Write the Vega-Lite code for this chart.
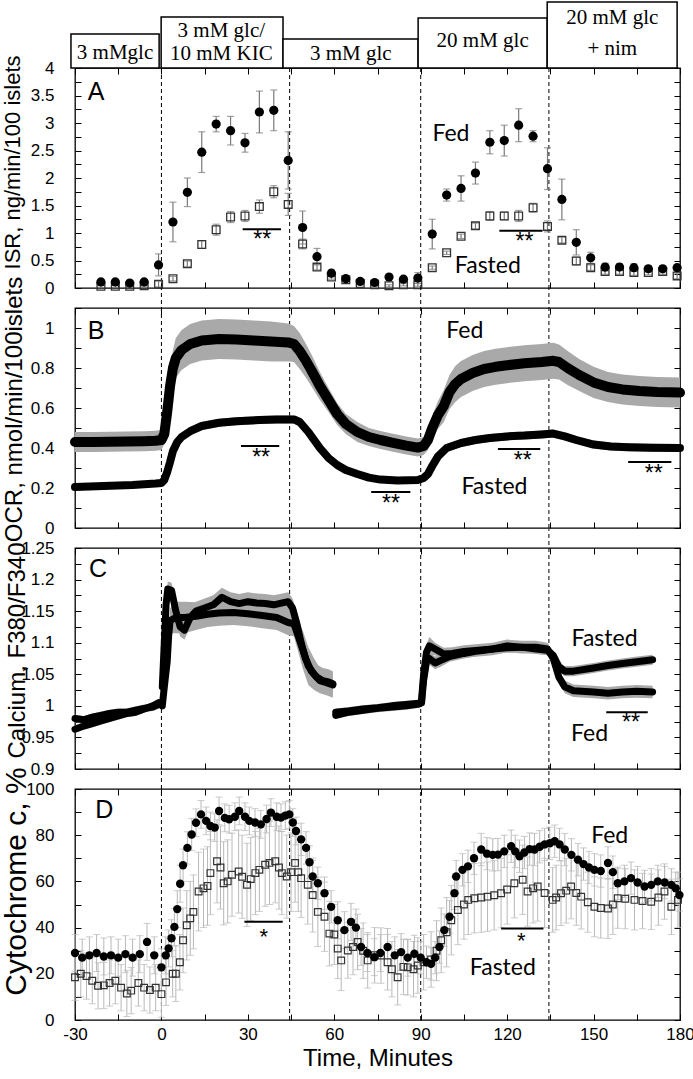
{
"$schema": "https://vega.github.io/schema/vega-lite/v6.json",
"padding": {"left": 0, "top": 0, "right": 2, "bottom": 0},
"config": {
 "font": "Liberation Sans",
 "view": {"stroke": "black", "strokeWidth": 1.3},
 "axis": {"domain": false, "grid": false, "tickColor": "black", "tickSize": -6, "tickWidth": 1, "labelColor": "black", "labelFont": "Liberation Sans", "labelFontSize": 17, "titleFont": "Liberation Sans", "titleFontWeight": "normal", "titleColor": "black", "labelFlush": false, "labelOverlap": false},
 "axisX": {"labelPadding": 12, "titleFontSize": 24, "titlePadding": 4},
 "axisY": {"labelPadding": 27}
},
"datasets": {
 "steps": [{"t": 0}, {"t": 44.5}, {"t": 90}, {"t": 134.5}],
 "hdr": [
  {"x1": -31.4, "x2": -0.8, "y1": 4, "y2": 4.618},
  {"x1": -0.1, "x2": 42.2, "y1": 4, "y2": 4.927},
  {"x1": 42.2, "x2": 89.1, "y1": 4, "y2": 4.527},
  {"x1": 89.1, "x2": 133.9, "y1": 4, "y2": 4.909},
  {"x1": 133.9, "x2": 179, "y1": 4, "y2": 5.2}
 ],
 "hdrtxt": [
  {"t": -16.1, "y": 4.273, "text": "3 mMglc"},
  {"t": 20.8, "y": 4.673, "text": "3 mM glc/"},
  {"t": 20.8, "y": 4.255, "text": "10 mM KIC"},
  {"t": 65.7, "y": 4.255, "text": "3 mM glc"},
  {"t": 111.5, "y": 4.491, "text": "20 mM glc"},
  {"t": 156.5, "y": 4.909, "text": "20 mM glc"},
  {"t": 156.5, "y": 4.345, "text": "+ nim"}
 ],
 "isr": [
  {"t": -21, "f": 0.11, "fe": 0.04, "q": 0.03, "qe": 0.02},
  {"t": -16, "f": 0.11, "fe": 0.04, "q": 0.03, "qe": 0.02},
  {"t": -11, "f": 0.09, "fe": 0.03, "q": 0.03, "qe": 0.02},
  {"t": -6, "f": 0.11, "fe": 0.04, "q": 0.04, "qe": 0.02},
  {"t": -1, "f": 0.42, "fe": 0.2, "q": 0.07, "qe": 0.05},
  {"t": 4, "f": 1.2, "fe": 0.36, "q": 0.17, "qe": 0.04},
  {"t": 9, "f": 1.74, "fe": 0.26, "q": 0.44, "qe": 0.05},
  {"t": 14, "f": 2.47, "fe": 0.37, "q": 0.79, "qe": 0.07},
  {"t": 19, "f": 2.98, "fe": 0.14, "q": 1.06, "qe": 0.1},
  {"t": 24, "f": 2.86, "fe": 0.26, "q": 1.29, "qe": 0.1},
  {"t": 29, "f": 2.64, "fe": 0.17, "q": 1.31, "qe": 0.1},
  {"t": 34, "f": 3.2, "fe": 0.38, "q": 1.48, "qe": 0.12},
  {"t": 39, "f": 3.23, "fe": 0.37, "q": 1.75, "qe": 0.11},
  {"t": 44, "f": 2.32, "fe": 0.52, "q": 1.52, "qe": 0.2},
  {"t": 49, "f": 1.1, "fe": 0.3, "q": 0.8, "qe": 0.09},
  {"t": 54, "f": 0.57, "fe": 0.15, "q": 0.38, "qe": 0.05},
  {"t": 59, "f": 0.27, "fe": 0.06, "q": 0.2, "qe": 0.04},
  {"t": 64, "f": 0.17, "fe": 0.03, "q": 0.15, "qe": 0.03},
  {"t": 69, "f": 0.12, "fe": 0.03, "q": 0.08, "qe": 0.02},
  {"t": 74, "f": 0.1, "fe": 0.03, "q": 0.06, "qe": 0.02},
  {"t": 79, "f": 0.2, "fe": 0.03, "q": 0.04, "qe": 0.02},
  {"t": 84, "f": 0.16, "fe": 0.04, "q": 0.06, "qe": 0.02},
  {"t": 89, "f": 0.18, "fe": 0.1, "q": 0.06, "qe": 0.03},
  {"t": 94, "f": 0.98, "fe": 0.27, "q": 0.37, "qe": 0.03},
  {"t": 99, "f": 1.69, "fe": 0.11, "q": 0.64, "qe": 0.03},
  {"t": 104, "f": 1.81, "fe": 0.23, "q": 0.94, "qe": 0.04},
  {"t": 109, "f": 2.09, "fe": 0.2, "q": 1.13, "qe": 0.05},
  {"t": 114, "f": 2.65, "fe": 0.21, "q": 1.31, "qe": 0.08},
  {"t": 119, "f": 2.68, "fe": 0.28, "q": 1.31, "qe": 0.07},
  {"t": 124, "f": 2.96, "fe": 0.3, "q": 1.31, "qe": 0.1},
  {"t": 129, "f": 2.76, "fe": 0.1, "q": 1.46, "qe": 0.08},
  {"t": 134, "f": 2.17, "fe": 0.38, "q": 1.12, "qe": 0.1},
  {"t": 139, "f": 1.61, "fe": 0.37, "q": 0.87, "qe": 0.05},
  {"t": 144, "f": 0.83, "fe": 0.23, "q": 0.49, "qe": 0.07},
  {"t": 149, "f": 0.55, "fe": 0.1, "q": 0.37, "qe": 0.05},
  {"t": 154, "f": 0.38, "fe": 0.07, "q": 0.3, "qe": 0.05},
  {"t": 159, "f": 0.38, "fe": 0.06, "q": 0.3, "qe": 0.05},
  {"t": 164, "f": 0.37, "fe": 0.07, "q": 0.28, "qe": 0.05},
  {"t": 169, "f": 0.35, "fe": 0.05, "q": 0.28, "qe": 0.04},
  {"t": 174, "f": 0.35, "fe": 0.05, "q": 0.3, "qe": 0.05},
  {"t": 179, "f": 0.37, "fe": 0.05, "q": 0.22, "qe": 0.05}
 ],
 "ocr_fed": [
  {"t": -30, "v": 0.43, "e": 0.05}, {"t": -24, "v": 0.43, "e": 0.05}, {"t": -18, "v": 0.431, "e": 0.05}, {"t": -12, "v": 0.432, "e": 0.05}, {"t": -6, "v": 0.434, "e": 0.05}, {"t": -2, "v": 0.436, "e": 0.05}, {"t": 0, "v": 0.44, "e": 0.05}, {"t": 1, "v": 0.47, "e": 0.05}, {"t": 2, "v": 0.58, "e": 0.06}, {"t": 3, "v": 0.71, "e": 0.08}, {"t": 4, "v": 0.8, "e": 0.09}, {"t": 5, "v": 0.85, "e": 0.1}, {"t": 7, "v": 0.89, "e": 0.1}, {"t": 10, "v": 0.92, "e": 0.1}, {"t": 14, "v": 0.938, "e": 0.1}, {"t": 20, "v": 0.945, "e": 0.1}, {"t": 26, "v": 0.942, "e": 0.1}, {"t": 32, "v": 0.937, "e": 0.1}, {"t": 38, "v": 0.933, "e": 0.1}, {"t": 44, "v": 0.928, "e": 0.095}, {"t": 46, "v": 0.92, "e": 0.09}, {"t": 48, "v": 0.885, "e": 0.09}, {"t": 50, "v": 0.84, "e": 0.085}, {"t": 52, "v": 0.79, "e": 0.08}, {"t": 55, "v": 0.71, "e": 0.07}, {"t": 58, "v": 0.64, "e": 0.06}, {"t": 61, "v": 0.57, "e": 0.055}, {"t": 64, "v": 0.52, "e": 0.05}, {"t": 68, "v": 0.48, "e": 0.05}, {"t": 72, "v": 0.455, "e": 0.045}, {"t": 76, "v": 0.44, "e": 0.045}, {"t": 80, "v": 0.427, "e": 0.045}, {"t": 85, "v": 0.412, "e": 0.045}, {"t": 89, "v": 0.402, "e": 0.045}, {"t": 91, "v": 0.41, "e": 0.045}, {"t": 92.5, "v": 0.44, "e": 0.05}, {"t": 94, "v": 0.5, "e": 0.06}, {"t": 96, "v": 0.565, "e": 0.07}, {"t": 98, "v": 0.61, "e": 0.08}, {"t": 100, "v": 0.68, "e": 0.085}, {"t": 102, "v": 0.72, "e": 0.09}, {"t": 104, "v": 0.745, "e": 0.09}, {"t": 108, "v": 0.775, "e": 0.09}, {"t": 112, "v": 0.795, "e": 0.09}, {"t": 116, "v": 0.806, "e": 0.09}, {"t": 120, "v": 0.814, "e": 0.09}, {"t": 126, "v": 0.824, "e": 0.09}, {"t": 132, "v": 0.83, "e": 0.09}, {"t": 136, "v": 0.836, "e": 0.09}, {"t": 138, "v": 0.83, "e": 0.088}, {"t": 141, "v": 0.8, "e": 0.085}, {"t": 145, "v": 0.765, "e": 0.08}, {"t": 150, "v": 0.728, "e": 0.078}, {"t": 155, "v": 0.705, "e": 0.075}, {"t": 160, "v": 0.693, "e": 0.075}, {"t": 166, "v": 0.685, "e": 0.075}, {"t": 172, "v": 0.68, "e": 0.075}, {"t": 180, "v": 0.677, "e": 0.075}
 ],
 "ocr_fas": [
  {"t": -30, "v": 0.205, "e": 0.015}, {"t": -20, "v": 0.21, "e": 0.015}, {"t": -10, "v": 0.215, "e": 0.015}, {"t": -2, "v": 0.222, "e": 0.015}, {"t": 0, "v": 0.225, "e": 0.015}, {"t": 1, "v": 0.24, "e": 0.015}, {"t": 2, "v": 0.28, "e": 0.02}, {"t": 3, "v": 0.33, "e": 0.02}, {"t": 4, "v": 0.385, "e": 0.02}, {"t": 5.5, "v": 0.43, "e": 0.02}, {"t": 7, "v": 0.455, "e": 0.02}, {"t": 10, "v": 0.484, "e": 0.02}, {"t": 14, "v": 0.51, "e": 0.02}, {"t": 20, "v": 0.526, "e": 0.02}, {"t": 26, "v": 0.534, "e": 0.02}, {"t": 34, "v": 0.54, "e": 0.02}, {"t": 40, "v": 0.543, "e": 0.02}, {"t": 46, "v": 0.543, "e": 0.02}, {"t": 48, "v": 0.53, "e": 0.02}, {"t": 51, "v": 0.48, "e": 0.02}, {"t": 55, "v": 0.4, "e": 0.02}, {"t": 58, "v": 0.35, "e": 0.02}, {"t": 61, "v": 0.315, "e": 0.02}, {"t": 64, "v": 0.29, "e": 0.018}, {"t": 68, "v": 0.27, "e": 0.015}, {"t": 72, "v": 0.252, "e": 0.015}, {"t": 76, "v": 0.242, "e": 0.015}, {"t": 82, "v": 0.237, "e": 0.015}, {"t": 89, "v": 0.24, "e": 0.015}, {"t": 91, "v": 0.25, "e": 0.015}, {"t": 92.5, "v": 0.27, "e": 0.015}, {"t": 94, "v": 0.31, "e": 0.018}, {"t": 96, "v": 0.358, "e": 0.02}, {"t": 99, "v": 0.4, "e": 0.02}, {"t": 104, "v": 0.425, "e": 0.02}, {"t": 109, "v": 0.44, "e": 0.02}, {"t": 114, "v": 0.45, "e": 0.02}, {"t": 120, "v": 0.458, "e": 0.02}, {"t": 126, "v": 0.462, "e": 0.02}, {"t": 132, "v": 0.468, "e": 0.02}, {"t": 136, "v": 0.472, "e": 0.02}, {"t": 140, "v": 0.458, "e": 0.02}, {"t": 144, "v": 0.44, "e": 0.02}, {"t": 150, "v": 0.417, "e": 0.02}, {"t": 156, "v": 0.408, "e": 0.02}, {"t": 162, "v": 0.404, "e": 0.02}, {"t": 170, "v": 0.401, "e": 0.02}, {"t": 180, "v": 0.4, "e": 0.02}
 ],
 "ca_fed": [
  {"s": 1, "t": -30, "v": 0.98, "e": 0.006}, {"s": 1, "t": -27, "v": 0.978, "e": 0.006}, {"s": 1, "t": -24, "v": 0.982, "e": 0.006}, {"s": 1, "t": -21, "v": 0.985, "e": 0.006}, {"s": 1, "t": -18, "v": 0.988, "e": 0.006}, {"s": 1, "t": -15, "v": 0.99, "e": 0.006}, {"s": 1, "t": -12, "v": 0.99, "e": 0.006}, {"s": 1, "t": -9, "v": 0.993, "e": 0.006}, {"s": 1, "t": -6, "v": 0.996, "e": 0.006}, {"s": 1, "t": -3, "v": 0.998, "e": 0.006}, {"s": 1, "t": -1, "v": 1.002, "e": 0.006},
  {"s": 2, "t": 0.3, "v": 1.03, "e": 0.01}, {"s": 2, "t": 1, "v": 1.1, "e": 0.012}, {"s": 2, "t": 1.6, "v": 1.16, "e": 0.012}, {"s": 2, "t": 2.2, "v": 1.185, "e": 0.012}, {"s": 2, "t": 3.5, "v": 1.183, "e": 0.012}, {"s": 2, "t": 5, "v": 1.15, "e": 0.015}, {"s": 2, "t": 6.5, "v": 1.125, "e": 0.015}, {"s": 2, "t": 8, "v": 1.12, "e": 0.015}, {"s": 2, "t": 10, "v": 1.14, "e": 0.015}, {"s": 2, "t": 12, "v": 1.15, "e": 0.015}, {"s": 2, "t": 15, "v": 1.155, "e": 0.015}, {"s": 2, "t": 18, "v": 1.16, "e": 0.015}, {"s": 2, "t": 21, "v": 1.172, "e": 0.015}, {"s": 2, "t": 24, "v": 1.165, "e": 0.015}, {"s": 2, "t": 27, "v": 1.162, "e": 0.015}, {"s": 2, "t": 30, "v": 1.165, "e": 0.015}, {"s": 2, "t": 33, "v": 1.163, "e": 0.015}, {"s": 2, "t": 36, "v": 1.162, "e": 0.015}, {"s": 2, "t": 39, "v": 1.16, "e": 0.015}, {"s": 2, "t": 42, "v": 1.163, "e": 0.015}, {"s": 2, "t": 44, "v": 1.165, "e": 0.015}, {"s": 2, "t": 45.5, "v": 1.155, "e": 0.015}, {"s": 2, "t": 47, "v": 1.13, "e": 0.02}, {"s": 2, "t": 48.5, "v": 1.1, "e": 0.025}, {"s": 2, "t": 50, "v": 1.075, "e": 0.025}, {"s": 2, "t": 52, "v": 1.055, "e": 0.025}, {"s": 2, "t": 54, "v": 1.045, "e": 0.02}, {"s": 2, "t": 56, "v": 1.04, "e": 0.02}, {"s": 2, "t": 58, "v": 1.038, "e": 0.02}, {"s": 2, "t": 59.5, "v": 1.035, "e": 0.02},
  {"s": 3, "t": 60.5, "v": 0.99, "e": 0.006}, {"s": 3, "t": 65, "v": 0.992, "e": 0.006}, {"s": 3, "t": 70, "v": 0.995, "e": 0.006}, {"s": 3, "t": 75, "v": 0.997, "e": 0.006}, {"s": 3, "t": 80, "v": 1.0, "e": 0.006}, {"s": 3, "t": 85, "v": 1.002, "e": 0.006}, {"s": 3, "t": 89.5, "v": 1.004, "e": 0.006},
  {"s": 4, "t": 90.3, "v": 1.01, "e": 0.008}, {"s": 4, "t": 91, "v": 1.05, "e": 0.01}, {"s": 4, "t": 92, "v": 1.085, "e": 0.012}, {"s": 4, "t": 93, "v": 1.095, "e": 0.014}, {"s": 4, "t": 95, "v": 1.09, "e": 0.01}, {"s": 4, "t": 98, "v": 1.082, "e": 0.01}, {"s": 4, "t": 101, "v": 1.083, "e": 0.01}, {"s": 4, "t": 105, "v": 1.086, "e": 0.01}, {"s": 4, "t": 110, "v": 1.088, "e": 0.01}, {"s": 4, "t": 115, "v": 1.09, "e": 0.01}, {"s": 4, "t": 120, "v": 1.095, "e": 0.01}, {"s": 4, "t": 125, "v": 1.093, "e": 0.01}, {"s": 4, "t": 130, "v": 1.093, "e": 0.01}, {"s": 4, "t": 134, "v": 1.09, "e": 0.01}, {"s": 4, "t": 136, "v": 1.075, "e": 0.01}, {"s": 4, "t": 138, "v": 1.045, "e": 0.01}, {"s": 4, "t": 140, "v": 1.03, "e": 0.01}, {"s": 4, "t": 143, "v": 1.024, "e": 0.01}, {"s": 4, "t": 150, "v": 1.022, "e": 0.01}, {"s": 4, "t": 155, "v": 1.02, "e": 0.01}, {"s": 4, "t": 160, "v": 1.022, "e": 0.01}, {"s": 4, "t": 165, "v": 1.023, "e": 0.01}, {"s": 4, "t": 170.5, "v": 1.022, "e": 0.01}
 ],
 "ca_fas": [
  {"s": 1, "t": -30, "v": 0.963, "e": 0.006}, {"s": 1, "t": -27, "v": 0.968, "e": 0.006}, {"s": 1, "t": -24, "v": 0.972, "e": 0.006}, {"s": 1, "t": -21, "v": 0.976, "e": 0.006}, {"s": 1, "t": -18, "v": 0.98, "e": 0.006}, {"s": 1, "t": -15, "v": 0.984, "e": 0.006}, {"s": 1, "t": -12, "v": 0.988, "e": 0.006}, {"s": 1, "t": -9, "v": 0.99, "e": 0.006}, {"s": 1, "t": -6, "v": 0.995, "e": 0.006}, {"s": 1, "t": -3, "v": 1.0, "e": 0.006}, {"s": 1, "t": -1, "v": 1.005, "e": 0.006},
  {"s": 2, "t": 0.3, "v": 1.0, "e": 0.01}, {"s": 2, "t": 1, "v": 1.03, "e": 0.01}, {"s": 2, "t": 2, "v": 1.07, "e": 0.01}, {"s": 2, "t": 2.5, "v": 1.11, "e": 0.015}, {"s": 2, "t": 3, "v": 1.135, "e": 0.02}, {"s": 2, "t": 5, "v": 1.14, "e": 0.025}, {"s": 2, "t": 8, "v": 1.14, "e": 0.025}, {"s": 2, "t": 12, "v": 1.142, "e": 0.022}, {"s": 2, "t": 16, "v": 1.145, "e": 0.02}, {"s": 2, "t": 20, "v": 1.147, "e": 0.02}, {"s": 2, "t": 25, "v": 1.148, "e": 0.02}, {"s": 2, "t": 30, "v": 1.146, "e": 0.02}, {"s": 2, "t": 35, "v": 1.143, "e": 0.02}, {"s": 2, "t": 40, "v": 1.14, "e": 0.02}, {"s": 2, "t": 44, "v": 1.132, "e": 0.02}, {"s": 2, "t": 46, "v": 1.13, "e": 0.02}, {"s": 2, "t": 47.5, "v": 1.11, "e": 0.025}, {"s": 2, "t": 49, "v": 1.09, "e": 0.03}, {"s": 2, "t": 51, "v": 1.063, "e": 0.03}, {"s": 2, "t": 53, "v": 1.05, "e": 0.025}, {"s": 2, "t": 55, "v": 1.04, "e": 0.02}, {"s": 2, "t": 57, "v": 1.037, "e": 0.02}, {"s": 2, "t": 59.5, "v": 1.033, "e": 0.02},
  {"s": 3, "t": 60.5, "v": 0.985, "e": 0.006}, {"s": 3, "t": 65, "v": 0.99, "e": 0.006}, {"s": 3, "t": 70, "v": 0.993, "e": 0.006}, {"s": 3, "t": 75, "v": 0.996, "e": 0.006}, {"s": 3, "t": 80, "v": 0.998, "e": 0.006}, {"s": 3, "t": 85, "v": 1.0, "e": 0.006}, {"s": 3, "t": 89.5, "v": 1.003, "e": 0.006},
  {"s": 4, "t": 90.3, "v": 1.005, "e": 0.008}, {"s": 4, "t": 91, "v": 1.04, "e": 0.01}, {"s": 4, "t": 92, "v": 1.07, "e": 0.01}, {"s": 4, "t": 93, "v": 1.075, "e": 0.01}, {"s": 4, "t": 95, "v": 1.068, "e": 0.01}, {"s": 4, "t": 97, "v": 1.072, "e": 0.01}, {"s": 4, "t": 100, "v": 1.078, "e": 0.008}, {"s": 4, "t": 105, "v": 1.083, "e": 0.008}, {"s": 4, "t": 110, "v": 1.087, "e": 0.008}, {"s": 4, "t": 115, "v": 1.09, "e": 0.008}, {"s": 4, "t": 120, "v": 1.092, "e": 0.008}, {"s": 4, "t": 125, "v": 1.093, "e": 0.008}, {"s": 4, "t": 130, "v": 1.09, "e": 0.008}, {"s": 4, "t": 134, "v": 1.088, "e": 0.008}, {"s": 4, "t": 136, "v": 1.08, "e": 0.008}, {"s": 4, "t": 138, "v": 1.062, "e": 0.008}, {"s": 4, "t": 140, "v": 1.055, "e": 0.008}, {"s": 4, "t": 143, "v": 1.055, "e": 0.008}, {"s": 4, "t": 150, "v": 1.06, "e": 0.008}, {"s": 4, "t": 155, "v": 1.064, "e": 0.008}, {"s": 4, "t": 160, "v": 1.067, "e": 0.008}, {"s": 4, "t": 165, "v": 1.07, "e": 0.008}, {"s": 4, "t": 170.5, "v": 1.073, "e": 0.008}
 ],
 "cyt_fed": [
  {"t": -30, "v": 29, "e": 8}, {"t": -27.5, "v": 27, "e": 8}, {"t": -25, "v": 28, "e": 8}, {"t": -22.5, "v": 29, "e": 8}, {"t": -20, "v": 27.5, "e": 8}, {"t": -17.5, "v": 28, "e": 8}, {"t": -15, "v": 27, "e": 8}, {"t": -12.5, "v": 28.5, "e": 8}, {"t": -10, "v": 27, "e": 8}, {"t": -7.5, "v": 28.5, "e": 8}, {"t": -5, "v": 33.8, "e": 8}, {"t": -2.5, "v": 28, "e": 8}, {"t": 0, "v": 22.8, "e": 8}, {"t": 1.5, "v": 28, "e": 8}, {"t": 2.5, "v": 31, "e": 8}, {"t": 3.5, "v": 35.4, "e": 8}, {"t": 4.5, "v": 40.3, "e": 8}, {"t": 5.5, "v": 48, "e": 8}, {"t": 6.5, "v": 59, "e": 8}, {"t": 7.5, "v": 67, "e": 7}, {"t": 9, "v": 74.5, "e": 7}, {"t": 10.5, "v": 80.3, "e": 7}, {"t": 12, "v": 85.4, "e": 6}, {"t": 13.75, "v": 89, "e": 6}, {"t": 15.5, "v": 86.2, "e": 6}, {"t": 17, "v": 84, "e": 6}, {"t": 18.5, "v": 83.3, "e": 6}, {"t": 20, "v": 90.5, "e": 6}, {"t": 22, "v": 87.5, "e": 6}, {"t": 23.5, "v": 86.9, "e": 6}, {"t": 25.5, "v": 88, "e": 6}, {"t": 27, "v": 90.5, "e": 6}, {"t": 29, "v": 88, "e": 6}, {"t": 30.5, "v": 86.2, "e": 6}, {"t": 32.5, "v": 85.5, "e": 6}, {"t": 34.5, "v": 84.7, "e": 6}, {"t": 36.5, "v": 87, "e": 6}, {"t": 38, "v": 89.8, "e": 6}, {"t": 40, "v": 88, "e": 6}, {"t": 41.5, "v": 87.6, "e": 6}, {"t": 43, "v": 88.5, "e": 6}, {"t": 44.4, "v": 89, "e": 6}, {"t": 45.6, "v": 85.5, "e": 6}, {"t": 46.7, "v": 81.8, "e": 6}, {"t": 48.5, "v": 78.2, "e": 7}, {"t": 50.2, "v": 74.5, "e": 7}, {"t": 51.4, "v": 68.3, "e": 7}, {"t": 52.5, "v": 62.1, "e": 7}, {"t": 54.3, "v": 59.2, "e": 7}, {"t": 56.6, "v": 54.9, "e": 7}, {"t": 58.9, "v": 49, "e": 7}, {"t": 61.2, "v": 43.2, "e": 8}, {"t": 63.5, "v": 38.9, "e": 8}, {"t": 65.8, "v": 42.5, "e": 8}, {"t": 67.5, "v": 40, "e": 8}, {"t": 69.3, "v": 31.6, "e": 8}, {"t": 71.5, "v": 29, "e": 8}, {"t": 73.9, "v": 27.2, "e": 8}, {"t": 76, "v": 29, "e": 8}, {"t": 78.5, "v": 31.6, "e": 8}, {"t": 81, "v": 28, "e": 8}, {"t": 83.2, "v": 29.4, "e": 8}, {"t": 85.5, "v": 27, "e": 8}, {"t": 87.8, "v": 28.7, "e": 8}, {"t": 90, "v": 27, "e": 7}, {"t": 92, "v": 25, "e": 7}, {"t": 93.6, "v": 24.3, "e": 7}, {"t": 95, "v": 27, "e": 7}, {"t": 96.5, "v": 31.6, "e": 7}, {"t": 98.2, "v": 38.9, "e": 7}, {"t": 100, "v": 44.7, "e": 7}, {"t": 101.7, "v": 54.9, "e": 7}, {"t": 102.3, "v": 62.1, "e": 7}, {"t": 104.5, "v": 65, "e": 7}, {"t": 106.4, "v": 66.5, "e": 7}, {"t": 108.5, "v": 70, "e": 7}, {"t": 111, "v": 73.8, "e": 7}, {"t": 113, "v": 72, "e": 7}, {"t": 115, "v": 71.5, "e": 7}, {"t": 116.8, "v": 71.6, "e": 7}, {"t": 119, "v": 73, "e": 7}, {"t": 121.4, "v": 75.2, "e": 7}, {"t": 122.8, "v": 73, "e": 7}, {"t": 124.3, "v": 70.9, "e": 7}, {"t": 126, "v": 72.5, "e": 7}, {"t": 127.8, "v": 74, "e": 7}, {"t": 129.5, "v": 73.8, "e": 7}, {"t": 131.3, "v": 75, "e": 7}, {"t": 133, "v": 76, "e": 7}, {"t": 134.8, "v": 76.5, "e": 7}, {"t": 136.5, "v": 77.4, "e": 7}, {"t": 138.2, "v": 76, "e": 7}, {"t": 140, "v": 73.8, "e": 7}, {"t": 142.3, "v": 71.5, "e": 7}, {"t": 144.6, "v": 69.4, "e": 7}, {"t": 146.5, "v": 67.5, "e": 7}, {"t": 148.4, "v": 66, "e": 7}, {"t": 150.3, "v": 65, "e": 7}, {"t": 152.5, "v": 64.5, "e": 7}, {"t": 155, "v": 68, "e": 7}, {"t": 156.7, "v": 64, "e": 7}, {"t": 158.4, "v": 59.2, "e": 7}, {"t": 160.7, "v": 60, "e": 7}, {"t": 163, "v": 61.4, "e": 7}, {"t": 165.3, "v": 59.5, "e": 7}, {"t": 167.7, "v": 57.8, "e": 7}, {"t": 170, "v": 58.5, "e": 7}, {"t": 172.3, "v": 60, "e": 7}, {"t": 174.7, "v": 59.5, "e": 7}, {"t": 177, "v": 58.5, "e": 7}, {"t": 178.5, "v": 57, "e": 7}, {"t": 179.8, "v": 54.1, "e": 7}
 ],
 "cyt_fas": [
  {"t": -30, "v": 18.5, "e": 10}, {"t": -28, "v": 20, "e": 10}, {"t": -26, "v": 19, "e": 10}, {"t": -24, "v": 17, "e": 10}, {"t": -22, "v": 14.8, "e": 10}, {"t": -20, "v": 15, "e": 10}, {"t": -18, "v": 16, "e": 10}, {"t": -16, "v": 17, "e": 10}, {"t": -14, "v": 14, "e": 10}, {"t": -12, "v": 11.5, "e": 10}, {"t": -10.5, "v": 12.7, "e": 10}, {"t": -8, "v": 16, "e": 10}, {"t": -6, "v": 14, "e": 10}, {"t": -4, "v": 13, "e": 10}, {"t": -2, "v": 14, "e": 10}, {"t": 0, "v": 11.2, "e": 10}, {"t": 1.6, "v": 16.3, "e": 10}, {"t": 3.9, "v": 20, "e": 10}, {"t": 5, "v": 20, "e": 12}, {"t": 6.4, "v": 25, "e": 12}, {"t": 7.5, "v": 34.5, "e": 14}, {"t": 8.8, "v": 41, "e": 15}, {"t": 10, "v": 44, "e": 16}, {"t": 11.1, "v": 46.8, "e": 16}, {"t": 12.9, "v": 55.6, "e": 17}, {"t": 14.6, "v": 57, "e": 17}, {"t": 16, "v": 58, "e": 17}, {"t": 17, "v": 63.6, "e": 18}, {"t": 19.3, "v": 68.7, "e": 18}, {"t": 20.5, "v": 66, "e": 18}, {"t": 21.6, "v": 59.2, "e": 18}, {"t": 23, "v": 60, "e": 18}, {"t": 24.5, "v": 62.9, "e": 18}, {"t": 26.8, "v": 64.3, "e": 18}, {"t": 28, "v": 62, "e": 18}, {"t": 29.7, "v": 58.5, "e": 18}, {"t": 31, "v": 61, "e": 18}, {"t": 32.6, "v": 63.6, "e": 18}, {"t": 34, "v": 65, "e": 18}, {"t": 36, "v": 67.2, "e": 18}, {"t": 37.5, "v": 68, "e": 18}, {"t": 39.5, "v": 68.7, "e": 18}, {"t": 40.8, "v": 66, "e": 18}, {"t": 41.8, "v": 63.6, "e": 18}, {"t": 43.5, "v": 62.1, "e": 18}, {"t": 45, "v": 64, "e": 17}, {"t": 46.4, "v": 68, "e": 17}, {"t": 47.5, "v": 64, "e": 17}, {"t": 48.5, "v": 61.4, "e": 17}, {"t": 50.8, "v": 58.5, "e": 17}, {"t": 52.5, "v": 54.1, "e": 16}, {"t": 54.3, "v": 46.8, "e": 15}, {"t": 56.6, "v": 44.7, "e": 15}, {"t": 58.3, "v": 37.4, "e": 14}, {"t": 60, "v": 37, "e": 13}, {"t": 61.2, "v": 30.9, "e": 13}, {"t": 62.4, "v": 25.8, "e": 13}, {"t": 64.7, "v": 30.1, "e": 12}, {"t": 66.5, "v": 31.6, "e": 12}, {"t": 68.1, "v": 33.8, "e": 12}, {"t": 70, "v": 30, "e": 12}, {"t": 71.6, "v": 25.8, "e": 12}, {"t": 74, "v": 28, "e": 12}, {"t": 76.2, "v": 27.9, "e": 12}, {"t": 78.5, "v": 25, "e": 12}, {"t": 80, "v": 22, "e": 12}, {"t": 82, "v": 18.5, "e": 12}, {"t": 84, "v": 23, "e": 12}, {"t": 85.5, "v": 22.8, "e": 12}, {"t": 87.5, "v": 22, "e": 12}, {"t": 89, "v": 23.6, "e": 12}, {"t": 91, "v": 25, "e": 12}, {"t": 93.6, "v": 26.2, "e": 12}, {"t": 95.5, "v": 30, "e": 13}, {"t": 97.1, "v": 34.5, "e": 14}, {"t": 99, "v": 38, "e": 15}, {"t": 100.6, "v": 43.2, "e": 15}, {"t": 102.9, "v": 47.6, "e": 15}, {"t": 105, "v": 50, "e": 15}, {"t": 106.5, "v": 52, "e": 15}, {"t": 108.6, "v": 52.7, "e": 15}, {"t": 111, "v": 53, "e": 15}, {"t": 113.2, "v": 53.4, "e": 15}, {"t": 115.5, "v": 54, "e": 15}, {"t": 117.9, "v": 54.9, "e": 15}, {"t": 120, "v": 56.5, "e": 15}, {"t": 122.5, "v": 59.2, "e": 15}, {"t": 125.4, "v": 60.7, "e": 15}, {"t": 127.1, "v": 55.6, "e": 15}, {"t": 129, "v": 57, "e": 15}, {"t": 130.6, "v": 57.8, "e": 15}, {"t": 133, "v": 55, "e": 15}, {"t": 135.8, "v": 52, "e": 14}, {"t": 137, "v": 53, "e": 14}, {"t": 138.7, "v": 54.9, "e": 14}, {"t": 140.5, "v": 56, "e": 14}, {"t": 142.2, "v": 57.8, "e": 14}, {"t": 144, "v": 55, "e": 14}, {"t": 145.7, "v": 53.4, "e": 14}, {"t": 148, "v": 51, "e": 13}, {"t": 150.3, "v": 49, "e": 13}, {"t": 152.5, "v": 48.5, "e": 13}, {"t": 155, "v": 48.3, "e": 13}, {"t": 156.7, "v": 50, "e": 13}, {"t": 158.4, "v": 52.7, "e": 13}, {"t": 161, "v": 52.5, "e": 13}, {"t": 164.2, "v": 52, "e": 13}, {"t": 167, "v": 51.5, "e": 12}, {"t": 170, "v": 51.2, "e": 12}, {"t": 172.5, "v": 53, "e": 12}, {"t": 174.6, "v": 55.6, "e": 12}, {"t": 177, "v": 49, "e": 12}, {"t": 179.3, "v": 52, "e": 12}
 ]
},
"spacing": 20,
"bounds": "flush",
"resolve": {"scale": {"x": "independent", "y": "independent"}},
"vconcat": [
 {
  "width": 605, "height": 220,
  "resolve": {"axis": {"x": "independent", "y": "independent"}},
  "layer": [
   {"data": {"name": "hdr"}, "mark": {"type": "rect", "fill": "white", "stroke": "black", "strokeWidth": 1.5},
    "encoding": {
     "x": {"field": "x1", "type": "quantitative", "scale": {"domain": [-30, 180], "nice": false, "zero": false}, "axis": null},
     "x2": {"field": "x2"},
     "y": {"field": "y1", "type": "quantitative", "scale": {"domain": [0, 4], "nice": false, "zero": false}, "axis": null},
     "y2": {"field": "y2"}}},
   {"data": {"name": "hdrtxt"}, "mark": {"type": "text", "font": "Liberation Serif", "fontSize": 21, "color": "black", "align": "center", "baseline": "middle"},
    "encoding": {
     "x": {"field": "t", "type": "quantitative", "axis": null},
     "y": {"field": "y", "type": "quantitative", "axis": null},
     "text": {"field": "text"}}},
   {"data": {"name": "steps"}, "mark": {"type": "rule", "strokeDash": [4, 3], "color": "black", "strokeWidth": 1},
    "encoding": {"x": {"field": "t", "type": "quantitative", "axis": null}}},
   {"data": {"name": "isr"}, "mark": {"type": "errorbar", "ticks": {"size": 7}, "color": "#7a7a7a", "thickness": 1.2},
    "encoding": {"x": {"field": "t", "type": "quantitative", "axis": null},
     "y": {"field": "f", "type": "quantitative", "axis": null},
     "yError": {"field": "fe"}}},
   {"data": {"name": "isr"}, "mark": {"type": "errorbar", "ticks": {"size": 7}, "color": "#7a7a7a", "thickness": 1.2},
    "encoding": {"x": {"field": "t", "type": "quantitative", "axis": null},
     "y": {"field": "q", "type": "quantitative", "axis": null},
     "yError": {"field": "qe"}}},
   {"data": {"name": "isr"}, "mark": {"type": "point", "shape": "square", "filled": false, "color": "#333333", "strokeWidth": 1.3, "size": 60, "opacity": 1},
    "encoding": {
     "x": {"field": "t", "type": "quantitative", "axis": {"orient": "bottom", "values": [-30, -15, 0, 15, 30, 45, 60, 75, 90, 105, 120, 135, 150, 165, 180], "labels": false, "title": null}},
     "y": {"field": "q", "type": "quantitative", "axis": {"orient": "left", "values": [0, 0.25, 0.5, 0.75, 1, 1.25, 1.5, 1.75, 2, 2.25, 2.5, 2.75, 3, 3.25, 3.5, 3.75, 4], "format": "~g", "labelExpr": "datum.value % 0.5 == 0 ? datum.label : ''", "title": "ISR, ng/min/100 islets", "titleFontSize": 22, "titleX": -56, "titleY": 94, "titleBaseline": "alphabetic"}}}},
   {"data": {"name": "isr"}, "mark": {"type": "point", "shape": "circle", "filled": true, "color": "black", "size": 85, "opacity": 1},
    "encoding": {
     "x": {"field": "t", "type": "quantitative", "axis": {"orient": "top", "values": [-30, -15, 0, 15, 30, 45, 60, 75, 90, 105, 120, 135, 150, 165, 180], "labels": false, "title": null}},
     "y": {"field": "f", "type": "quantitative", "axis": {"orient": "right", "values": [0, 0.25, 0.5, 0.75, 1, 1.25, 1.5, 1.75, 2, 2.25, 2.5, 2.75, 3, 3.25, 3.5, 3.75, 4], "labels": false, "title": null}}}},
   {"data": {"values": [{"a": 28.2, "b": 41.5, "y": 1.07}, {"a": 117.3, "b": 132.3, "y": 1.04}]}, "mark": {"type": "rule", "color": "black", "strokeWidth": 2},
    "encoding": {"x": {"field": "a", "type": "quantitative", "axis": null}, "x2": {"field": "b"}, "y": {"field": "y", "type": "quantitative", "axis": null}}},
   {"data": {"values": [{"t": 35, "y": 0.87, "text": "**"}, {"t": 126, "y": 0.84, "text": "**"}]}, "mark": {"type": "text", "font": "Liberation Sans", "fontSize": 23, "color": "black", "align": "center", "baseline": "middle"},
    "encoding": {"x": {"field": "t", "type": "quantitative", "axis": null}, "y": {"field": "y", "type": "quantitative", "axis": null}, "text": {"field": "text"}}},
   {"data": {"values": [{"t": -22.7, "y": 3.57, "text": "A"}]}, "mark": {"type": "text", "font": "Liberation Sans", "fontSize": 25, "color": "black", "align": "center", "baseline": "middle"},
    "encoding": {"x": {"field": "t", "type": "quantitative", "axis": null}, "y": {"field": "y", "type": "quantitative", "axis": null}, "text": {"field": "text"}}},
   {"data": {"values": [{"t": 100.5, "y": 2.8, "text": "Fed"}, {"t": 113.3, "y": 0.4, "text": "Fasted"}]}, "mark": {"type": "text", "font": "Lato", "fontSize": 23, "color": "black", "align": "center", "baseline": "middle"},
    "encoding": {"x": {"field": "t", "type": "quantitative", "axis": null}, "y": {"field": "y", "type": "quantitative", "axis": null}, "text": {"field": "text"}}}
  ]
 },
 {
  "width": 605, "height": 220,
  "resolve": {"axis": {"x": "independent", "y": "independent"}},
  "layer": [
   {"data": {"name": "steps"}, "mark": {"type": "rule", "strokeDash": [4, 3], "color": "black", "strokeWidth": 1},
    "encoding": {"x": {"field": "t", "type": "quantitative", "scale": {"domain": [-30, 180], "nice": false, "zero": false}, "axis": null},
     "y": {"datum": 0, "type": "quantitative", "scale": {"domain": [0, 1.1], "nice": false, "zero": false}, "axis": null}, "y2": {"datum": 1.2}}},
   {"data": {"name": "ocr_fed"}, "mark": {"type": "errorband", "band": {"color": "#a9a9a9", "opacity": 1}},
    "encoding": {"x": {"field": "t", "type": "quantitative", "axis": null}, "y": {"field": "v", "type": "quantitative", "axis": null}, "yError": {"field": "e"}}},
   {"data": {"name": "ocr_fas"}, "mark": {"type": "errorband", "band": {"color": "#a9a9a9", "opacity": 1}},
    "encoding": {"x": {"field": "t", "type": "quantitative", "axis": null}, "y": {"field": "v", "type": "quantitative", "axis": null}, "yError": {"field": "e"}}},
   {"data": {"name": "ocr_fed"}, "mark": {"type": "line", "color": "black", "strokeWidth": 10, "strokeCap": "round", "strokeJoin": "round"},
    "encoding": {
     "x": {"field": "t", "type": "quantitative", "axis": {"orient": "bottom", "values": [-30, -15, 0, 15, 30, 45, 60, 75, 90, 105, 120, 135, 150, 165, 180], "labels": false, "title": null}},
     "y": {"field": "v", "type": "quantitative", "axis": {"orient": "left", "values": [0, 0.1, 0.2, 0.3, 0.4, 0.5, 0.6, 0.7, 0.8, 0.9, 1, 1.1], "format": "~g", "labelExpr": "round(datum.value * 10) % 2 == 0 ? datum.label : ''", "title": "OCR, nmol/min/100islets", "titleFontSize": 24, "titleX": -54, "titleY": 101, "titleBaseline": "alphabetic"}}}},
   {"data": {"name": "ocr_fas"}, "mark": {"type": "line", "color": "black", "strokeWidth": 8, "strokeCap": "round", "strokeJoin": "round"},
    "encoding": {
     "x": {"field": "t", "type": "quantitative", "axis": {"orient": "top", "values": [-30, -15, 0, 15, 30, 45, 60, 75, 90, 105, 120, 135, 150, 165, 180], "labels": false, "title": null}},
     "y": {"field": "v", "type": "quantitative", "axis": {"orient": "right", "values": [0, 0.1, 0.2, 0.3, 0.4, 0.5, 0.6, 0.7, 0.8, 0.9, 1, 1.1], "labels": false, "title": null}}}},
   {"data": {"values": [{"a": 27.6, "b": 40.9, "y": 0.41}, {"a": 72.8, "b": 86.4, "y": 0.18}, {"a": 116.8, "b": 131.5, "y": 0.395}, {"a": 162, "b": 177, "y": 0.33}]}, "mark": {"type": "rule", "color": "black", "strokeWidth": 2},
    "encoding": {"x": {"field": "a", "type": "quantitative", "axis": null}, "x2": {"field": "b"}, "y": {"field": "y", "type": "quantitative", "axis": null}}},
   {"data": {"values": [{"t": 34.6, "y": 0.35, "text": "**"}, {"t": 79.7, "y": 0.12, "text": "**"}, {"t": 125.4, "y": 0.335, "text": "**"}, {"t": 170.9, "y": 0.27, "text": "**"}]}, "mark": {"type": "text", "font": "Liberation Sans", "fontSize": 23, "color": "black", "align": "center", "baseline": "middle"},
    "encoding": {"x": {"field": "t", "type": "quantitative", "axis": null}, "y": {"field": "y", "type": "quantitative", "axis": null}, "text": {"field": "text"}}},
   {"data": {"values": [{"t": -22.7, "y": 0.986, "text": "B"}]}, "mark": {"type": "text", "font": "Liberation Sans", "fontSize": 25, "color": "black", "align": "center", "baseline": "middle"},
    "encoding": {"x": {"field": "t", "type": "quantitative", "axis": null}, "y": {"field": "y", "type": "quantitative", "axis": null}, "text": {"field": "text"}}},
   {"data": {"values": [{"t": 105.3, "y": 0.986, "text": "Fed"}, {"t": 115.6, "y": 0.205, "text": "Fasted"}]}, "mark": {"type": "text", "font": "Lato", "fontSize": 23, "color": "black", "align": "center", "baseline": "middle"},
    "encoding": {"x": {"field": "t", "type": "quantitative", "axis": null}, "y": {"field": "y", "type": "quantitative", "axis": null}, "text": {"field": "text"}}}
  ]
 },
 {
  "width": 605, "height": 221,
  "resolve": {"axis": {"x": "independent", "y": "independent"}},
  "layer": [
   {"data": {"name": "steps"}, "mark": {"type": "rule", "strokeDash": [4, 3], "color": "black", "strokeWidth": 1},
    "encoding": {"x": {"field": "t", "type": "quantitative", "scale": {"domain": [-30, 180], "nice": false, "zero": false}, "axis": null},
     "y": {"datum": 0.9, "type": "quantitative", "scale": {"domain": [0.9, 1.25], "nice": false, "zero": false}, "axis": null}, "y2": {"datum": 1.28}}},
   {"data": {"name": "ca_fed"}, "mark": {"type": "errorband", "band": {"color": "#a9a9a9", "opacity": 1}},
    "encoding": {"x": {"field": "t", "type": "quantitative", "axis": null}, "y": {"field": "v", "type": "quantitative", "axis": null}, "yError": {"field": "e"}, "detail": {"field": "s"}}},
   {"data": {"name": "ca_fas"}, "mark": {"type": "errorband", "band": {"color": "#a9a9a9", "opacity": 1}},
    "encoding": {"x": {"field": "t", "type": "quantitative", "axis": null}, "y": {"field": "v", "type": "quantitative", "axis": null}, "yError": {"field": "e"}, "detail": {"field": "s"}}},
   {"data": {"name": "ca_fas"}, "mark": {"type": "line", "color": "black", "strokeWidth": 7, "strokeCap": "round", "strokeJoin": "round"},
    "encoding": {
     "x": {"field": "t", "type": "quantitative", "axis": {"orient": "bottom", "values": [-30, -15, 0, 15, 30, 45, 60, 75, 90, 105, 120, 135, 150, 165, 180], "labels": false, "title": null}},
     "y": {"field": "v", "type": "quantitative", "axis": {"orient": "left", "values": [0.9, 0.925, 0.95, 0.975, 1, 1.025, 1.05, 1.075, 1.1, 1.125, 1.15, 1.175, 1.2, 1.225, 1.25], "format": "~g", "labelExpr": "round(datum.value * 40) % 2 == 0 ? datum.label : ''", "title": "Calcium, F380/F340", "titleFontSize": 24, "titleX": -51, "titleY": 102, "titleBaseline": "alphabetic"}},
     "detail": {"field": "s"}}},
   {"data": {"name": "ca_fed"}, "mark": {"type": "line", "color": "black", "strokeWidth": 7, "strokeCap": "round", "strokeJoin": "round"},
    "encoding": {
     "x": {"field": "t", "type": "quantitative", "axis": {"orient": "top", "values": [-30, -15, 0, 15, 30, 45, 60, 75, 90, 105, 120, 135, 150, 165, 180], "labels": false, "title": null}},
     "y": {"field": "v", "type": "quantitative", "axis": {"orient": "right", "values": [0.9, 0.925, 0.95, 0.975, 1, 1.025, 1.05, 1.075, 1.1, 1.125, 1.15, 1.175, 1.2, 1.225, 1.25], "labels": false, "title": null}},
     "detail": {"field": "s"}}},
   {"data": {"values": [{"a": 154.4, "b": 168.8, "y": 0.99}]}, "mark": {"type": "rule", "color": "black", "strokeWidth": 2},
    "encoding": {"x": {"field": "a", "type": "quantitative", "axis": null}, "x2": {"field": "b"}, "y": {"field": "y", "type": "quantitative", "axis": null}}},
   {"data": {"values": [{"t": 163, "y": 0.973, "text": "**"}]}, "mark": {"type": "text", "font": "Liberation Sans", "fontSize": 23, "color": "black", "align": "center", "baseline": "middle"},
    "encoding": {"x": {"field": "t", "type": "quantitative", "axis": null}, "y": {"field": "y", "type": "quantitative", "axis": null}, "text": {"field": "text"}}},
   {"data": {"values": [{"t": -22, "y": 1.216, "text": "C"}]}, "mark": {"type": "text", "font": "Liberation Sans", "fontSize": 25, "color": "black", "align": "center", "baseline": "middle"},
    "encoding": {"x": {"field": "t", "type": "quantitative", "axis": null}, "y": {"field": "y", "type": "quantitative", "axis": null}, "text": {"field": "text"}}},
   {"data": {"values": [{"t": 153.8, "y": 1.106, "text": "Fasted"}, {"t": 148.6, "y": 0.955, "text": "Fed"}]}, "mark": {"type": "text", "font": "Lato", "fontSize": 23, "color": "black", "align": "center", "baseline": "middle"},
    "encoding": {"x": {"field": "t", "type": "quantitative", "axis": null}, "y": {"field": "y", "type": "quantitative", "axis": null}, "text": {"field": "text"}}}
  ]
 },
 {
  "width": 605, "height": 231,
  "resolve": {"axis": {"x": "independent", "y": "independent"}},
  "layer": [
   {"data": {"name": "steps"}, "mark": {"type": "rule", "strokeDash": [4, 3], "color": "black", "strokeWidth": 1},
    "encoding": {"x": {"field": "t", "type": "quantitative", "scale": {"domain": [-30, 180], "nice": false, "zero": false}, "axis": null},
     "y": {"datum": 0, "type": "quantitative", "scale": {"domain": [0, 100], "nice": false, "zero": false}, "axis": null}, "y2": {"datum": 109.6}}},
   {"data": {"name": "cyt_fas"}, "mark": {"type": "errorbar", "ticks": {"size": 7}, "color": "#b8b8b8", "thickness": 1},
    "encoding": {"x": {"field": "t", "type": "quantitative", "axis": null}, "y": {"field": "v", "type": "quantitative", "axis": null}, "yError": {"field": "e"}}},
   {"data": {"name": "cyt_fed"}, "mark": {"type": "errorbar", "ticks": {"size": 7}, "color": "#b8b8b8", "thickness": 1},
    "encoding": {"x": {"field": "t", "type": "quantitative", "axis": null}, "y": {"field": "v", "type": "quantitative", "axis": null}, "yError": {"field": "e"}}},
   {"data": {"name": "cyt_fas"}, "mark": {"type": "point", "shape": "square", "filled": false, "color": "#333333", "strokeWidth": 1.2, "size": 45, "opacity": 1},
    "encoding": {
     "x": {"field": "t", "type": "quantitative", "axis": {"orient": "bottom", "values": [-30, -15, 0, 15, 30, 45, 60, 75, 90, 105, 120, 135, 150, 165, 180], "labelExpr": "datum.value % 30 == 0 ? '' + datum.value : ''", "title": "Time, Minutes"}},
     "y": {"field": "v", "type": "quantitative", "axis": {"orient": "left", "values": [0, 10, 20, 30, 40, 50, 60, 70, 80, 90, 100], "labelExpr": "datum.value % 20 == 0 ? datum.label : ''", "title": "Cytochrome c, %", "titleFontSize": 30, "titleX": -50, "titleY": 92, "titleBaseline": "alphabetic"}}}},
   {"data": {"name": "cyt_fed"}, "mark": {"type": "point", "shape": "circle", "filled": true, "color": "black", "size": 70, "opacity": 1},
    "encoding": {
     "x": {"field": "t", "type": "quantitative", "axis": {"orient": "top", "values": [-30, -15, 0, 15, 30, 45, 60, 75, 90, 105, 120, 135, 150, 165, 180], "labels": false, "title": null}},
     "y": {"field": "v", "type": "quantitative", "axis": {"orient": "right", "values": [0, 10, 20, 30, 40, 50, 60, 70, 80, 90, 100], "labels": false, "title": null}}}},
   {"data": {"values": [{"a": 28.8, "b": 42.1, "y": 42.5}, {"a": 117.9, "b": 132.6, "y": 39.6}]}, "mark": {"type": "rule", "color": "black", "strokeWidth": 2},
    "encoding": {"x": {"field": "a", "type": "quantitative", "axis": null}, "x2": {"field": "b"}, "y": {"field": "y", "type": "quantitative", "axis": null}}},
   {"data": {"values": [{"t": 35.5, "y": 36, "text": "*"}, {"t": 124.9, "y": 34, "text": "*"}]}, "mark": {"type": "text", "font": "Liberation Sans", "fontSize": 22, "color": "black", "align": "center", "baseline": "middle"},
    "encoding": {"x": {"field": "t", "type": "quantitative", "axis": null}, "y": {"field": "y", "type": "quantitative", "axis": null}, "text": {"field": "text"}}},
   {"data": {"values": [{"t": -19.8, "y": 91, "text": "D"}]}, "mark": {"type": "text", "font": "Liberation Sans", "fontSize": 25, "color": "black", "align": "center", "baseline": "middle"},
    "encoding": {"x": {"field": "t", "type": "quantitative", "axis": null}, "y": {"field": "y", "type": "quantitative", "axis": null}, "text": {"field": "text"}}},
   {"data": {"values": [{"t": 155.6, "y": 79.6, "text": "Fed"}, {"t": 118.5, "y": 22.5, "text": "Fasted"}]}, "mark": {"type": "text", "font": "Lato", "fontSize": 23, "color": "black", "align": "center", "baseline": "middle"},
    "encoding": {"x": {"field": "t", "type": "quantitative", "axis": null}, "y": {"field": "y", "type": "quantitative", "axis": null}, "text": {"field": "text"}}}
  ]
 }
]
}
